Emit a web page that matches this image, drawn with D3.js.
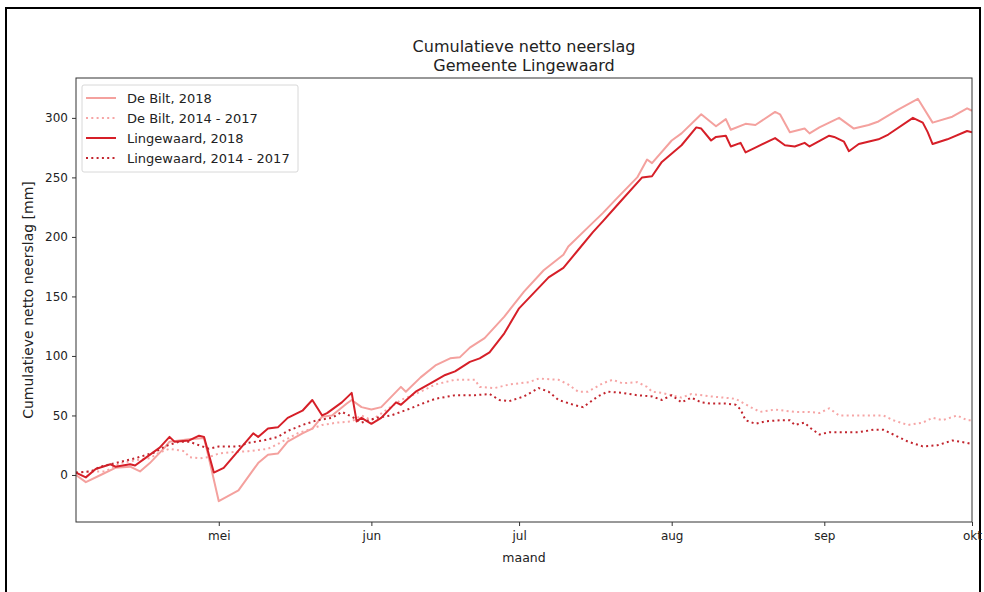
<!DOCTYPE html>
<html>
<head>
<meta charset="utf-8">
<script src="https://cdn.jsdelivr.net/npm/d3@7/dist/d3.min.js"></script>
<style>
  body { margin: 0; background: #fff; }
  text { font-family: "DejaVu Sans", sans-serif; fill: #222; }
</style>
</head>
<body>
<svg id="chart" width="984" height="592"></svg>
<script>
// data, [maand-dag 2018, mm]
var deBilt2018 = [
    ["04-02", 0], ["04-04", -6], ["04-07", 0], ["04-10", 6], ["04-13", 7], ["04-15", 3],
    ["04-17", 10], ["04-20", 23], ["04-21", 28], ["04-23", 29], ["04-25", 30], ["04-28", 31],
    ["04-29", 14], ["05-01", -22], ["05-05", -13], ["05-09", 10], ["05-11", 17], ["05-13", 18],
    ["05-15", 28], ["05-18", 35], ["05-20", 39], ["05-22", 49], ["05-24", 50], ["05-27", 60],
    ["05-28", 63], ["05-30", 57], ["06-01", 55], ["06-03", 57], ["06-07", 74], ["06-08", 70],
    ["06-11", 82], ["06-14", 92], ["06-17", 98], ["06-19", 99], ["06-21", 107], ["06-24", 115],
    ["06-28", 133], ["07-02", 154], ["07-06", 172], ["07-10", 185], ["07-11", 192], ["07-15", 208],
    ["07-18", 220], ["07-21", 233], ["07-25", 250], ["07-27", 265], ["07-28", 262], ["08-01", 281],
    ["08-03", 287], ["08-07", 303], ["08-10", 293], ["08-12", 299], ["08-13", 290], ["08-16", 295],
    ["08-18", 294], ["08-22", 305], ["08-23", 303], ["08-25", 288], ["08-28", 291], ["08-29", 287],
    ["08-31", 292], ["09-04", 300], ["09-07", 291], ["09-10", 294], ["09-12", 297], ["09-16", 307],
    ["09-20", 316], ["09-23", 296], ["09-27", 301], ["09-30", 308], ["10-01", 306]
];
var deBilt1417 = [
    ["04-02", 2], ["04-05", 3], ["04-08", 3], ["04-11", 10], ["04-15", 13], ["04-17", 14],
    ["04-19", 19], ["04-21", 22], ["04-24", 20], ["04-25", 15], ["04-27", 14], ["04-29", 15],
    ["05-01", 18], ["05-03", 19], ["05-07", 20], ["05-11", 22], ["05-13", 26], ["05-17", 35],
    ["05-20", 39], ["05-22", 42], ["05-25", 44], ["05-28", 45], ["05-30", 50], ["06-01", 46],
    ["06-07", 63], ["06-11", 70], ["06-14", 76], ["06-18", 80], ["06-22", 80], ["06-23", 74],
    ["06-26", 73], ["06-29", 76], ["07-03", 78], ["07-05", 81], ["07-09", 80], ["07-11", 76],
    ["07-13", 70], ["07-15", 70], ["07-18", 77], ["07-20", 80], ["07-22", 77], ["07-25", 78],
    ["07-27", 74], ["07-28", 70], ["07-30", 69], ["08-03", 65], ["08-05", 68], ["08-09", 66],
    ["08-14", 64], ["08-17", 57], ["08-19", 53], ["08-22", 55], ["08-26", 53], ["08-29", 53],
    ["08-31", 52], ["09-02", 56], ["09-04", 50], ["09-07", 50], ["09-10", 50], ["09-13", 50],
    ["09-15", 46], ["09-18", 42], ["09-21", 44], ["09-23", 48], ["09-25", 46], ["09-28", 50],
    ["09-30", 46], ["10-01", 46]
];
var lingewaard2018 = [
    ["04-02", 2], ["04-04", -2], ["04-06", 5], ["04-09", 9], ["04-10", 7], ["04-13", 9],
    ["04-14", 8], ["04-16", 14], ["04-19", 23], ["04-21", 32], ["04-22", 28], ["04-25", 29],
    ["04-27", 33], ["04-28", 32], ["04-30", 2], ["05-02", 6], ["05-08", 35], ["05-09", 32],
    ["05-11", 39], ["05-13", 40], ["05-15", 48], ["05-18", 54], ["05-20", 63], ["05-22", 50],
    ["05-23", 52], ["05-26", 61], ["05-28", 69], ["05-29", 45], ["05-30", 48], ["06-01", 43],
    ["06-03", 48], ["06-06", 61], ["06-07", 59], ["06-10", 70], ["06-13", 77], ["06-16", 84],
    ["06-18", 87], ["06-21", 95], ["06-23", 98], ["06-25", 103], ["06-28", 119], ["07-01", 140],
    ["07-04", 153], ["07-07", 166], ["07-10", 174], ["07-13", 189], ["07-16", 204], ["07-18", 213],
    ["07-21", 227], ["07-26", 250], ["07-28", 251], ["07-30", 263], ["08-03", 277], ["08-06", 292],
    ["08-07", 291], ["08-09", 281], ["08-10", 284], ["08-12", 285], ["08-13", 276], ["08-15", 279],
    ["08-16", 271], ["08-18", 275], ["08-22", 283], ["08-24", 277], ["08-26", 276], ["08-28", 279],
    ["08-29", 276], ["09-02", 285], ["09-03", 284], ["09-05", 280], ["09-06", 272], ["09-08", 278],
    ["09-12", 282], ["09-14", 286], ["09-19", 300], ["09-21", 296], ["09-22", 288], ["09-23", 278],
    ["09-26", 282], ["09-30", 289], ["10-01", 288]
];
var lingewaard1417 = [
    ["04-02", 2], ["04-05", 3], ["04-07", 7], ["04-11", 11], ["04-14", 14], ["04-18", 19],
    ["04-20", 24], ["04-23", 28], ["04-25", 28], ["04-27", 25], ["04-29", 22], ["05-01", 24],
    ["05-05", 24], ["05-07", 27], ["05-10", 29], ["05-13", 32], ["05-15", 37], ["05-18", 42],
    ["05-21", 46], ["05-24", 48], ["05-26", 53], ["05-28", 49], ["05-30", 44], ["06-02", 48],
    ["06-05", 50], ["06-09", 56], ["06-12", 61], ["06-14", 64], ["06-18", 67], ["06-22", 67],
    ["06-25", 68], ["06-27", 63], ["06-29", 62], ["07-02", 66], ["07-05", 73], ["07-07", 70],
    ["07-09", 63], ["07-12", 59], ["07-14", 57], ["07-17", 66], ["07-19", 70], ["07-22", 69],
    ["07-25", 67], ["07-28", 66], ["07-30", 63], ["08-01", 67], ["08-03", 61], ["08-05", 65],
    ["08-07", 61], ["08-09", 60], ["08-12", 60], ["08-14", 59], ["08-15", 55], ["08-16", 46],
    ["08-18", 43], ["08-20", 45], ["08-23", 46], ["08-25", 46], ["08-26", 42], ["08-28", 44],
    ["08-29", 40], ["08-31", 34], ["09-02", 36], ["09-06", 36], ["09-08", 36], ["09-11", 38],
    ["09-13", 38], ["09-15", 34], ["09-18", 28], ["09-21", 24], ["09-24", 25], ["09-27", 29],
    ["09-30", 27], ["10-01", 26]
];

var seriesNames = ["De Bilt, 2018", "De Bilt, 2014 - 2017", "Lingewaard, 2018", "Lingewaard, 2014 - 2017"];
var monthTicks = ["05-01", "06-01", "07-01", "08-01", "09-01", "10-01"];
var monthLabels = ["mei", "jun", "jul", "aug", "sep", "okt"];
var yTicks = [0, 50, 100, 150, 200, 250, 300];

var parse = d3.timeParse("%Y-%m-%d");
function day(s) { return parse("2018-" + s); }

var svg = d3.select("#chart");
var plotLeft = 76, plotRight = 972, plotTop = 78, plotBottom = 522;

var x = d3.scaleTime().domain([day("04-02"), day("10-01")]).range([plotLeft, plotRight]);
var y = d3.scaleLinear().domain([-39.5, 333.5]).range([plotBottom, plotTop]);

// figure frame
svg.append("rect").attr("x", 6).attr("y", 8).attr("width", 974).attr("height", 600)
    .attr("fill", "none").attr("stroke", "#000").attr("stroke-width", 2);

svg.append("clipPath").attr("id", "clip").append("rect")
    .attr("x", plotLeft).attr("y", plotTop)
    .attr("width", plotRight - plotLeft).attr("height", plotBottom - plotTop);

var styles = [
    { data: deBilt2018, color: "#f4a19e", dash: null },
    { data: deBilt1417, color: "#f6a5a5", dash: "2,3.3" },
    { data: lingewaard2018, color: "#d61f28", dash: null },
    { data: lingewaard1417, color: "#c2242d", dash: "2,3.3" }
];

var line = d3.line().x(function(d) { return x(day(d[0])); }).y(function(d) { return y(d[1]); });

var plot = svg.append("g").attr("clip-path", "url(#clip)");
styles.forEach(function(s) {
    plot.append("path").datum(s.data)
        .attr("d", line)
        .attr("fill", "none")
        .attr("stroke", s.color)
        .attr("stroke-width", 2)
        .attr("stroke-linejoin", "round")
        .attr("stroke-dasharray", s.dash);
});

// axes
var yAxis = svg.append("g").attr("transform", "translate(" + plotLeft + ",0)")
    .call(d3.axisLeft(y).tickValues(yTicks).tickSize(4).tickPadding(4).tickSizeOuter(0));
var xAxis = svg.append("g").attr("transform", "translate(0," + plotBottom + ")")
    .call(d3.axisBottom(x).tickValues(monthTicks.map(day))
        .tickFormat(function(d, i) { return monthLabels[i]; })
        .tickSize(4).tickPadding(5).tickSizeOuter(0));
[yAxis, xAxis].forEach(function(a) {
    a.select(".domain").remove();
    a.selectAll("line").attr("stroke", "#333");
    a.selectAll("text").style("font-size", "12px").attr("fill", "#222");
});

svg.append("rect").attr("x", plotLeft).attr("y", plotTop)
    .attr("width", plotRight - plotLeft).attr("height", plotBottom - plotTop)
    .attr("fill", "none").attr("stroke", "#333").attr("stroke-width", 1);

// titles
var midX = (plotLeft + plotRight) / 2;
svg.append("text").attr("x", midX).attr("y", 52).attr("text-anchor", "middle")
    .style("font-size", "16px").text("Cumulatieve netto neerslag");
svg.append("text").attr("x", midX).attr("y", 71).attr("text-anchor", "middle")
    .style("font-size", "16px").text("Gemeente Lingewaard");
svg.append("text").attr("x", midX).attr("y", 562).attr("text-anchor", "middle")
    .style("font-size", "12.5px").text("maand");
svg.append("text").attr("transform", "translate(33," + ((plotTop + plotBottom) / 2) + ") rotate(-90)")
    .attr("text-anchor", "middle").style("font-size", "14px").text("Cumulatieve netto neerslag [mm]");

// legend
var legend = svg.append("g");
legend.append("rect").attr("x", 82).attr("y", 85).attr("width", 216).attr("height", 87)
    .attr("rx", 2).attr("fill", "#fff").attr("fill-opacity", 0.8)
    .attr("stroke", "#d8d8d8").attr("stroke-width", 1);
seriesNames.forEach(function(name, i) {
    var ly = 98 + i * 20;
    legend.append("line").attr("x1", 86).attr("x2", 116).attr("y1", ly).attr("y2", ly)
        .attr("stroke", styles[i].color).attr("stroke-width", 2)
        .attr("stroke-dasharray", styles[i].dash);
    legend.append("text").attr("x", 127).attr("y", ly + 4.5)
        .style("font-size", "13px").text(name);
});
</script>
</body>
</html>
